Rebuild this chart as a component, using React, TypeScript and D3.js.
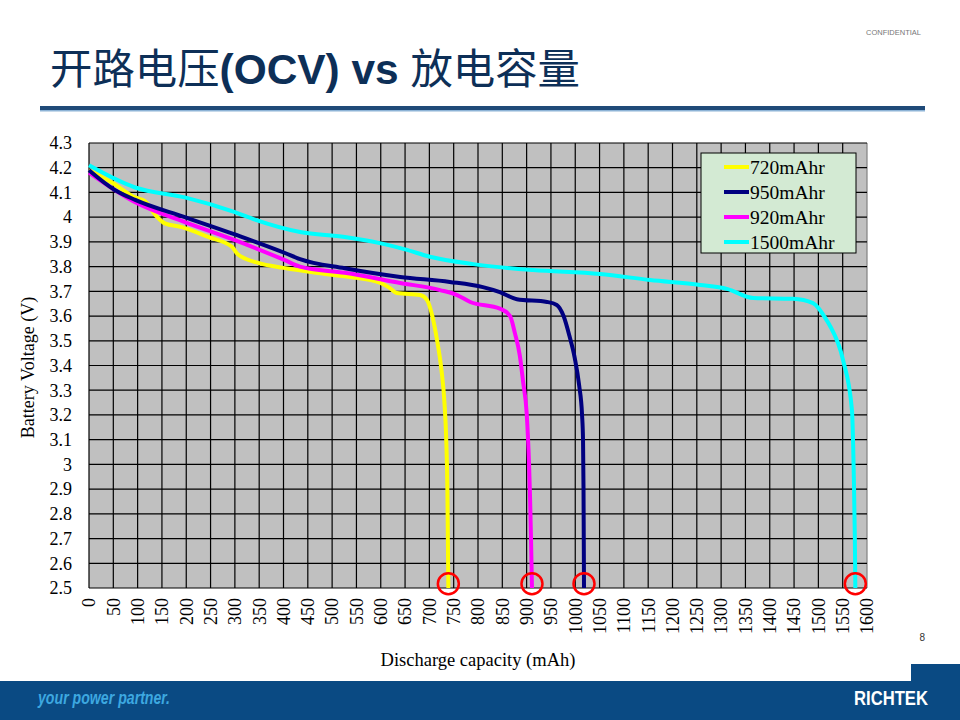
import * as d3 from 'd3';

// capacity (mAh), voltage (V)
const cap720 = [0, 47, 95, 115, 136, 156, 191, 245, 294, 306, 348, 400, 471, 537, 598, 619, 633, 681, 695, 706, 716, 725, 731, 735, 737, 738, 739];
const volt720 = [4.19, 4.14, 4.08, 4.065, 4.01, 3.975, 3.96, 3.92, 3.88, 3.85, 3.815, 3.795, 3.774, 3.758, 3.735, 3.713, 3.693, 3.685, 3.665, 3.6, 3.5, 3.38, 3.25, 3.08, 2.9, 2.7, 2.5];

const cap950 = [0, 53, 95, 197, 300, 403, 434, 526, 640, 742, 810, 845, 880, 942, 962, 976, 988, 999, 1008, 1014, 1016, 1017, 1017.5, 1018];
const volt950 = [4.19, 4.11, 4.07, 4.0, 3.93, 3.855, 3.83, 3.793, 3.758, 3.738, 3.717, 3.697, 3.668, 3.657, 3.645, 3.6, 3.52, 3.43, 3.32, 3.2, 3.1, 2.9, 2.7, 2.5];

const cap920 = [0, 95, 197, 300, 403, 434, 526, 640, 722, 757, 784, 845, 866, 876, 886, 893, 900, 905, 907, 909, 911];
const volt920 = [4.18, 4.06, 3.98, 3.907, 3.826, 3.8, 3.775, 3.734, 3.705, 3.685, 3.657, 3.63, 3.6, 3.53, 3.44, 3.33, 3.21, 3.0, 2.87, 2.7, 2.5];

const cap1500 = [0, 95, 197, 300, 341, 434, 526, 598, 650, 701, 790, 913, 1051, 1154, 1257, 1312, 1366, 1448, 1489, 1518, 1524, 1551, 1569, 1573, 1575, 1576];
const volt1500 = [4.21, 4.12, 4.08, 4.02, 3.99, 3.94, 3.92, 3.895, 3.87, 3.84, 3.81, 3.786, 3.77, 3.746, 3.726, 3.71, 3.673, 3.67, 3.652, 3.58, 3.56, 3.42, 3.22, 2.94, 2.7, 2.5];

const seriesNames = ['720mAhr', '950mAhr', '920mAhr', '1500mAhr'];
const seriesColors = ['#ffff00', '#000080', '#ff00ff', '#00ffff'];
const seriesCaps = [cap720, cap950, cap920, cap1500];
const seriesVolts = [volt720, volt950, volt920, volt1500];

const xTicks = d3.range(0, 1601, 50);
const yTicks = d3.range(25, 44).map(d => d / 10);

const serif = '"Liberation Serif", "Times New Roman", serif';
const sans = '"Liberation Sans", Arial, sans-serif';
const cjk = '"Noto Sans CJK SC", sans-serif';

export default function App() {
  const W = 960, H = 720;
  const plot = { left: 89, right: 867, top: 143, bottom: 588 };

  const x = d3.scaleLinear().domain([0, 1600]).range([plot.left, plot.right]);
  const y = d3.scaleLinear().domain([2.5, 4.3]).range([plot.bottom, plot.top]);

  const line = d3.line<[number, number]>()
    .x(d => x(d[0]))
    .y(d => y(d[1]))
    .curve(d3.curveMonotoneX);

  const series = seriesNames.map((name, i) => ({
    name,
    color: seriesColors[i],
    pts: seriesCaps[i].map((c, j) => [c, seriesVolts[i][j]] as [number, number]),
  }));

  // draw order: cyan, yellow, magenta, navy on top
  const drawOrder = [3, 0, 2, 1];

  const legend = { x: 701, y: 153, w: 155, h: 100 };

  return (
    <div style={{ position: 'absolute', left: 0, top: 0 }}>
      <svg width={W} height={H} style={{ display: 'block', background: '#fff' }}>
        {/* header */}
        <text x={921} y={35} textAnchor="end" fontFamily={sans} fontSize={7.5} fill="#777">CONFIDENTIAL</text>
        <text x={50} y={84} fontSize={42} fill="#0d2f57" textLength={530} lengthAdjust="spacingAndGlyphs">
          <tspan fontFamily={cjk}>开路电压</tspan>
          <tspan fontFamily={sans} fontWeight="bold">(OCV) vs </tspan>
          <tspan fontFamily={cjk}>放电容量</tspan>
        </text>
        <rect x={40} y={106} width={885} height={4} fill="#1f4a78" />
        <rect x={40} y={110} width={885} height={1.5} fill="#8db3d6" />

        {/* plot background */}
        <rect x={plot.left} y={plot.top} width={plot.right - plot.left} height={plot.bottom - plot.top} fill="#c0c0c0" />

        {/* grid */}
        {xTicks.map(t => (
          <line key={`gx${t}`} x1={x(t)} x2={x(t)} y1={plot.top} y2={plot.bottom}
            stroke={t === 1600 ? '#808080' : '#000'} strokeWidth={1.2} />
        ))}
        {yTicks.map(t => (
          <line key={`gy${t}`} x1={plot.left} x2={plot.right} y1={y(t)} y2={y(t)}
            stroke="#000" strokeWidth={1.2} />
        ))}

        {/* y tick labels */}
        {yTicks.map(t => (
          <text key={`ty${t}`} x={72} y={y(t)} dy="0.35em" textAnchor="end"
            fontFamily={serif} fontSize={18} fill="#000">{String(t)}</text>
        ))}

        {/* x tick labels, rotated */}
        {xTicks.map(t => (
          <text key={`tx${t}`} transform={`translate(${x(t)},${plot.bottom + 10}) rotate(-90)`}
            dy="0.35em" textAnchor="end" fontFamily={serif} fontSize={18} fill="#000">{String(t)}</text>
        ))}

        {/* axis titles */}
        <text transform={`translate(34,${(plot.top + plot.bottom) / 2 + 2}) rotate(-90)`} textAnchor="middle"
          fontFamily={serif} fontSize={18} fill="#000">Battery Voltage (V)</text>
        <text x={478} y={666} textAnchor="middle" fontFamily={serif} fontSize={18.5} fill="#000">Discharge capacity (mAh)</text>

        {/* series */}
        {drawOrder.map(i => (
          <path key={series[i].name} d={line(series[i].pts) || ''} fill="none"
            stroke={series[i].color} strokeWidth={4} strokeLinejoin="round" />
        ))}

        {/* end-of-discharge markers */}
        {seriesCaps.map((c, i) => (
          <circle key={`c${i}`} cx={x(c[c.length - 1])} cy={y(2.517)} r={10.5}
            fill="none" stroke="#ff0000" strokeWidth={2.5} />
        ))}

        {/* legend */}
        <rect x={legend.x} y={legend.y} width={legend.w} height={legend.h} fill="#d3ead3" stroke="#000" strokeWidth={1} />
        {series.map((s, i) => (
          <g key={`lg${s.name}`} transform={`translate(${legend.x},${legend.y + 14 + i * 25})`}>
            <line x1={23} x2={48} y1={0} y2={0} stroke={s.color} strokeWidth={4} />
            <text x={49} y={0} dy="0.35em" fontFamily={serif} fontSize={19.5} fill="#000">{s.name}</text>
          </g>
        ))}

        {/* page number */}
        <text x={925} y={641} textAnchor="end" fontFamily={sans} fontSize={10} fill="#333">8</text>

        {/* footer */}
        <rect x={0} y={681} width={W} height={H - 681} fill="#0a4a83" />
        <rect x={911} y={664} width={W - 911} height={20} fill="#0a4a83" />
        <text x={38} y={704} fontFamily={'"Liberation Sans Narrow", "Liberation Sans", sans-serif'}
          fontStyle="italic" fontWeight="bold" fontSize={18} fill="#3da8e0" textLength={132}
          lengthAdjust="spacingAndGlyphs">your power partner.</text>
        <text x={854} y={705} fontFamily={sans} fontWeight="bold" fontSize={21} fill="#fff"
          textLength={74} lengthAdjust="spacingAndGlyphs">RICHTEK</text>
      </svg>
    </div>
  );
}
